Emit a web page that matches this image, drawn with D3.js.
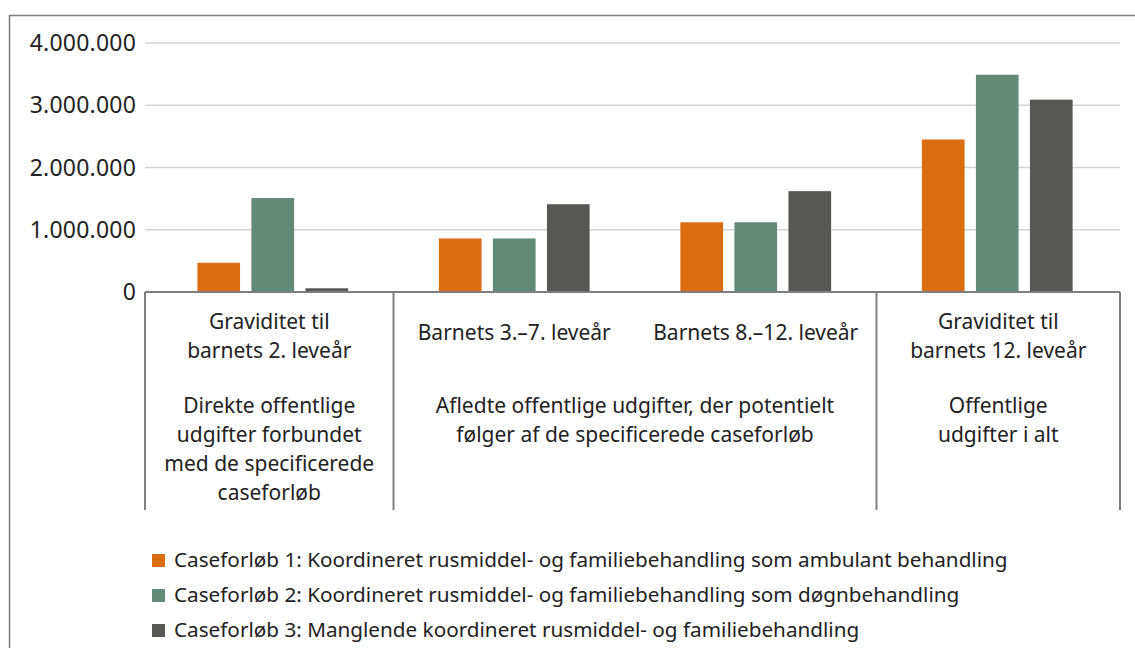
<!DOCTYPE html>
<html>
	<head>
		<meta charset="UTF-8" />
		<title>Caseforløb - offentlige udgifter</title>
		<script src="https://cdn.jsdelivr.net/npm/d3@7"></script>
		<style>
			body {
				margin: 0;
				background: #fff;
			}
			svg {
				display: block;
				font-family: "Noto Sans", sans-serif;
			}
		</style>
	</head>
	<body>
		<svg width="1135" height="648"></svg>

		<script>
			// category labels (lower level) and group labels (upper level)
			const categories = ["g1", "g2", "g3", "g4"];
			const categoryLines = [
				["Graviditet til", "barnets 2. leveår"],
				["Barnets 3.–7. leveår"],
				["Barnets 8.–12. leveår"],
				["Graviditet til", "barnets 12. leveår"],
			];
			const groupLines = [
				["Direkte offentlige", "udgifter forbundet", "med de specificerede", "caseforløb"],
				["Afledte offentlige udgifter, der potentielt", "følger af de specificerede caseforløb"],
				["Offentlige", "udgifter i alt"],
			];
			const groupSpans = [
				[0, 0],
				[1, 2],
				[3, 3],
			];

			const seriesNames = [
				"Caseforløb 1: Koordineret rusmiddel- og familiebehandling som ambulant behandling",
				"Caseforløb 2: Koordineret rusmiddel- og familiebehandling som døgnbehandling",
				"Caseforløb 3: Manglende koordineret rusmiddel- og familiebehandling",
			];
			const case1 = [470000, 860000, 1120000, 2450000];
			const case2 = [1510000, 860000, 1120000, 3490000];
			const case3 = [60000, 1410000, 1620000, 3090000];
			const series = [case1, case2, case3];

			const yTicks = [0, 1000000, 2000000, 3000000, 4000000];
			const colors = ["#da6c12", "#628a76", "#575756"];

			const locale = d3.formatLocale({ decimal: ",", thousands: ".", grouping: [3], currency: ["", " kr."] });
			const fmt = locale.format(",");

			const svg = d3.select("svg");
			const textColor = "#222";
			const fontSize = "21px";
			const plotLeft = 145;
			const plotRight = 1120;

			// outer frame (cut off at the right and bottom)
			svg
				.append("rect")
				.attr("x", 9.5)
				.attr("y", 15.5)
				.attr("width", 1140)
				.attr("height", 660)
				.attr("fill", "none")
				.attr("stroke", "#808080")
				.attr("stroke-width", 1.5);

			let y = d3.scaleLinear().domain([0, 4000000]).range([292, 43]);
			let x0 = d3.scaleBand().domain(categories).range([152, 1118]);
			let x1 = d3.scaleBand().domain([0, 1, 2]).range([0, x0.bandwidth()]).paddingInner(0.21).paddingOuter(0.84);

			// gridlines
			svg
				.append("g")
				.selectAll("line")
				.data(yTicks.filter((d) => d > 0))
				.enter()
				.append("line")
				.attr("x1", plotLeft)
				.attr("x2", plotRight)
				.attr("y1", (d) => y(d))
				.attr("y2", (d) => y(d))
				.attr("stroke", "#d4d4d4")
				.attr("stroke-width", 1.6);

			// y tick labels
			svg
				.append("g")
				.selectAll("text")
				.data(yTicks)
				.enter()
				.append("text")
				.text((d) => fmt(d))
				.attr("x", 136)
				.attr("y", (d) => y(d))
				.attr("dy", "0.35em")
				.attr("text-anchor", "end")
				.attr("fill", textColor)
				.style("font-size", "23px")
				.style("letter-spacing", "0.2px");

			// bars
			let groups = svg
				.append("g")
				.selectAll("g")
				.data(series)
				.enter()
				.append("g")
				.attr("fill", (d, i) => colors[i]);

			groups
				.selectAll("rect")
				.data((d, i) => d.map((v, j) => ({ v, s: i, c: categories[j] })))
				.enter()
				.append("rect")
				.attr("x", (d) => x0(d.c) + x1(d.s))
				.attr("width", x1.bandwidth())
				.attr("y", (d) => y(d.v))
				.attr("height", (d) => y(0) - y(d.v));

			// baseline
			svg
				.append("line")
				.attr("x1", plotLeft)
				.attr("x2", plotRight)
				.attr("y1", y(0))
				.attr("y2", y(0))
				.attr("stroke", "#7f7f7f")
				.attr("stroke-width", 2);

			// multi-level category axis
			const sections = groupSpans.map((s, i) => {
				let start = i === 0 ? plotLeft : x0(categories[s[0]]);
				let end = i === groupSpans.length - 1 ? plotRight : x0(categories[s[1]]) + x0.step();
				return { start, end, lines: groupLines[i] };
			});
			const seps = [plotLeft].concat(sections.map((s) => s.end));

			svg
				.append("g")
				.selectAll("line")
				.data(seps)
				.enter()
				.append("line")
				.attr("x1", (d) => d)
				.attr("x2", (d) => d)
				.attr("y1", y(0))
				.attr("y2", 510)
				.attr("stroke", "#7f7f7f")
				.attr("stroke-width", 2);

			const lineH = 29;
			categoryLines.forEach((lines, i) => {
				let cx = x0(categories[i]) + x0.bandwidth() / 2;
				if (i === 0) cx = (plotLeft + sections[0].end) / 2;
				if (i === categories.length - 1) cx = (sections[2].start + plotRight) / 2;
				let top = lines.length === 1 ? 340 : 329;
				svg
					.append("g")
					.selectAll("text")
					.data(lines)
					.enter()
					.append("text")
					.text((d) => d)
					.attr("x", cx)
					.attr("y", (d, k) => top + k * lineH)
					.attr("text-anchor", "middle")
					.attr("fill", textColor)
					.style("font-size", fontSize);
			});

			sections.forEach((s) => {
				svg
					.append("g")
					.selectAll("text")
					.data(s.lines)
					.enter()
					.append("text")
					.text((d) => d)
					.attr("x", (s.start + s.end) / 2)
					.attr("y", (d, k) => 413 + k * lineH)
					.attr("text-anchor", "middle")
					.attr("fill", textColor)
					.style("font-size", fontSize);
			});

			// legend
			let legend = svg
				.append("g")
				.selectAll("g")
				.data(seriesNames)
				.enter()
				.append("g")
				.attr("transform", (d, i) => `translate(152, ${567 + i * 35})`);

			legend
				.append("rect")
				.attr("y", -13)
				.attr("width", 13)
				.attr("height", 13)
				.attr("fill", (d, i) => colors[i]);

			legend
				.append("text")
				.text((d) => d)
				.attr("x", 22)
				.attr("fill", textColor)
				.style("font-size", "20.7px");
		</script>
	</body>
</html>
